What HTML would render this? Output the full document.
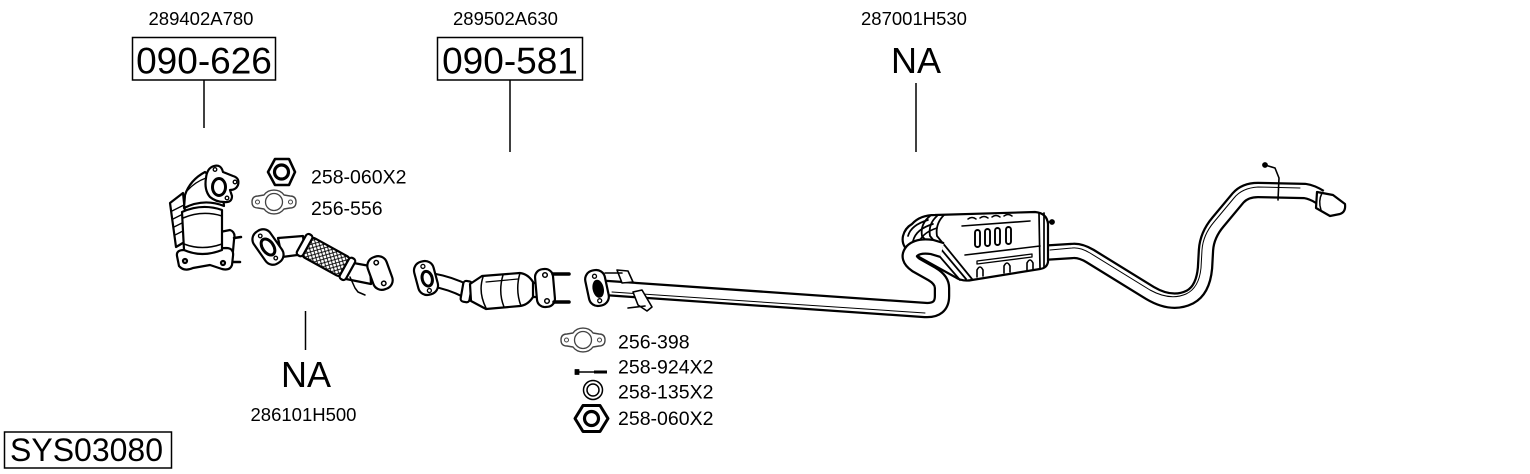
<!DOCTYPE html>
<html><head><meta charset="utf-8">
<style>
html,body{margin:0;padding:0;background:#fff;}
svg{display:block;}
text{font-family:"Liberation Sans",Arial,sans-serif;fill:#000;}
</style></head>
<body>
<svg width="1530" height="474" viewBox="0 0 1530 474" xmlns="http://www.w3.org/2000/svg">
<defs>
<pattern id="mesh" patternUnits="userSpaceOnUse" width="5" height="5">
<rect width="5" height="5" fill="#fff"/>
<path d="M0,0 L5,5 M5,0 L0,5" stroke="#000" stroke-width="0.9"/>
</pattern>
</defs>

<!-- ===== Labels ===== -->
<text x="201" y="25" font-size="18.5" text-anchor="middle">289402A780</text>
<rect x="132.5" y="37.5" width="143" height="42.5" fill="none" stroke="#000" stroke-width="1.5"/>
<text x="204" y="73.5" font-size="37" text-anchor="middle">090-626</text>
<line x1="204" y1="80" x2="204" y2="128" stroke="#000" stroke-width="1.5"/>

<text x="505.5" y="25" font-size="18.5" text-anchor="middle">289502A630</text>
<rect x="437.5" y="37.5" width="145" height="42.5" fill="none" stroke="#000" stroke-width="1.5"/>
<text x="510" y="73.5" font-size="37" text-anchor="middle">090-581</text>
<line x1="510" y1="80" x2="510" y2="152" stroke="#000" stroke-width="1.5"/>

<text x="914" y="25" font-size="18.5" text-anchor="middle">287001H530</text>
<text x="916" y="73" font-size="36" text-anchor="middle">NA</text>
<line x1="916" y1="83" x2="916" y2="152" stroke="#000" stroke-width="1.5"/>

<line x1="305.5" y1="311" x2="305.5" y2="350" stroke="#000" stroke-width="1.5"/>
<text x="306" y="387" font-size="36" text-anchor="middle">NA</text>
<text x="303.5" y="421" font-size="18.5" text-anchor="middle">286101H500</text>

<rect x="4.5" y="432" width="167" height="36" fill="none" stroke="#000" stroke-width="1.5"/>
<text x="10" y="461" font-size="32">SYS03080</text>

<!-- hardware labels -->
<text x="311" y="183.5" font-size="19.5">258-060X2</text>
<text x="311" y="215" font-size="19.5">256-556</text>
<text x="618" y="348.5" font-size="19.5">256-398</text>
<text x="618" y="373.5" font-size="19.5">258-924X2</text>
<text x="618" y="398.5" font-size="19.5">258-135X2</text>
<text x="618" y="425" font-size="19.5">258-060X2</text>

<!-- ===== hardware icons ===== -->
<g stroke="#000" fill="#fff" stroke-linejoin="round">
  <path d="M268,172 L275,159 L289,159 L295,172 L289,185 L275,185 Z" stroke-width="2.6"/>
  <circle cx="281.5" cy="172" r="7" stroke-width="3.2"/>
  <path d="M252,202 Q252,196 258,196 L264,195 A12 11 0 0 1 284,195 L290,196 Q296,196 296,202 Q296,208 290,208 L284,209 A12 11 0 0 1 264,209 L258,208 Q252,208 252,202 Z" stroke="#444" stroke-width="1.4"/>
  <circle cx="274" cy="202" r="8.5" stroke="#444" stroke-width="1.3"/>
  <circle cx="257.5" cy="202" r="2" stroke="#444" stroke-width="1"/>
  <circle cx="290.5" cy="202" r="2" stroke="#444" stroke-width="1"/>
  <path d="M561,340 Q561,334 567,334 L573,333 A12 11 0 0 1 593,333 L599,334 Q605,334 605,340 Q605,346 599,346 L593,347 A12 11 0 0 1 573,347 L567,346 Q561,346 561,340 Z" stroke="#444" stroke-width="1.4"/>
  <circle cx="583" cy="340" r="8.5" stroke="#444" stroke-width="1.3"/>
  <circle cx="566.5" cy="340" r="2" stroke="#444" stroke-width="1"/>
  <circle cx="599.5" cy="340" r="2" stroke="#444" stroke-width="1"/>
  <line x1="578" y1="372" x2="607" y2="372" stroke-width="1.6"/>
  <line x1="594" y1="372" x2="607" y2="372" stroke-width="3"/>
  <rect x="575" y="369.5" width="4" height="5" fill="#000" stroke-width="0.8"/>
  <circle cx="593" cy="390" r="9.5" stroke-width="1.5"/>
  <circle cx="593" cy="390" r="6" stroke-width="1.5"/>
  <path d="M575,418.5 L583,405.5 L600,405.5 L608,418.5 L600,431.5 L583,431.5 Z" stroke-width="3"/>
  <circle cx="591.5" cy="418.5" r="7" stroke-width="3.2"/>
</g>

<!-- ===== Left catalytic converter ===== -->
<g stroke="#000" stroke-width="2.2" fill="#fff" stroke-linejoin="round" stroke-linecap="round">
  <path d="M170,203 L183,193 L188,240 L176,247 Z"/>
  <path d="M172,211 L184,205 M173,219 L185,213 M174,227 L186,221 M175,235 L187,229" stroke-width="1.3"/>
  <path d="M220,232 L230,230 Q236,232 234,240 L232,262 Q230,268 224,266 L218,262 Z"/>
  <line x1="234" y1="238" x2="241" y2="237" stroke-width="2.5"/>
  <line x1="232" y1="262" x2="240" y2="262" stroke-width="2.5"/>
  <path d="M177,256 Q176,250 184,250 L226,248 Q234,248 233,256 L232,265 Q230,271 222,269 L210,265 L193,268 Q184,272 179,266 Z"/>
  <circle cx="185" cy="261" r="2"/>
  <circle cx="223" cy="263" r="2"/>
  <path d="M182,212 Q202,203 222,210 L222,250 Q202,258 184,250 Z"/>
  <path d="M183,218 Q202,210 222,216 M184,244 Q202,251 222,244" fill="none" stroke-width="1.5"/>
  <path d="M185,195 Q190,180 205,172 L222,186 L224,206 Q204,198 184,208 Z"/>
  <path d="M188,190 Q195,182 206,178" fill="none" stroke-width="1.3"/>
  <path d="M206,178 Q207,168 214,166 Q221,164 223,172 L233,176 Q240,178 238,185 Q236,190 230,190 L232,196 Q232,203 224,202 Q216,202 210,197 Q204,190 206,178 Z"/>
  <ellipse cx="219" cy="187" rx="6.5" ry="8.5" stroke-width="3"/>
  <circle cx="215" cy="169.5" r="1.8" stroke-width="1.3"/>
  <circle cx="235" cy="182" r="1.8" stroke-width="1.3"/>
  <circle cx="227" cy="198" r="1.8" stroke-width="1.3"/>
</g>

<!-- ===== Flex pipe ===== -->
<g stroke="#000" stroke-width="2.2" fill="#fff" stroke-linejoin="round" stroke-linecap="round">
  <path d="M278,238 L303,236 L305,254 L282,257 Z"/>
  <path d="M348,262 L370,266 L371,284 L346,279 Z"/>
  <path d="M350,277 L355,288 L358,292 L365,295" fill="none" stroke-width="1.5"/>
  <g transform="rotate(29 326 257)">
    <rect x="302" y="246" width="48" height="22" rx="6" fill="url(#mesh)"/>
    <rect x="298" y="245" width="7" height="24" rx="3"/>
    <rect x="347" y="245" width="7" height="24" rx="3"/>
  </g>
  <g transform="rotate(-35 268 247)">
    <rect x="258" y="228" width="20" height="38" rx="9"/>
    <ellipse cx="268" cy="247" rx="5.5" ry="9" stroke-width="3"/>
    <circle cx="268" cy="233.5" r="1.8" stroke-width="1.3"/>
    <circle cx="268" cy="260.5" r="1.8" stroke-width="1.3"/>
  </g>
  <g transform="rotate(-20 380 273)">
    <rect x="370" y="256" width="20" height="34" rx="9"/>
    <circle cx="380" cy="262" r="2.2" stroke-width="1.5"/>
    <circle cx="380" cy="284" r="2.2" stroke-width="1.5"/>
  </g>
</g>

<!-- ===== Middle catalytic converter ===== -->
<g stroke="#000" stroke-width="2.2" fill="#fff" stroke-linejoin="round" stroke-linecap="round">
  <path d="M433,280 Q450,283 466,291" fill="none" stroke-width="15" stroke-linecap="butt"/>
  <path d="M433,280 Q450,283 466,291" fill="none" stroke="#fff" stroke-width="11" stroke-linecap="butt"/>
  <rect x="531" y="283" width="14" height="14" />
  <rect x="462" y="281" width="9" height="21" rx="3" transform="rotate(10 466 291)"/>
  <path d="M470,284 L482,276 L520,273 Q528,274 533,282 L533,297 Q528,305 520,306 L486,309 L471,301 Z"/>
  <path d="M483,277 Q478,292 486,308 M503,275 Q498,292 504,307 M520,273 Q515,290 521,306" fill="none" stroke-width="1.5"/>
  <path d="M486,282 L518,279" fill="none" stroke-width="1.2"/>
  <g transform="rotate(-15 426 278)">
    <rect x="416" y="261" width="20" height="34" rx="9"/>
    <ellipse cx="427" cy="279" rx="5" ry="7.5" stroke-width="3"/>
    <circle cx="426" cy="266" r="2" stroke-width="1.3"/>
    <circle cx="426" cy="291" r="2" stroke-width="1.3"/>
  </g>
  <rect x="536" y="269" width="18" height="38" rx="8" transform="rotate(-5 545 288)"/>
  <circle cx="545" cy="275" r="2.3" stroke-width="1.5"/>
  <circle cx="547" cy="301" r="2.3" stroke-width="1.5"/>
  <line x1="553" y1="274" x2="569" y2="274" stroke-width="3.5"/>
  <line x1="554" y1="302" x2="569" y2="302" stroke-width="3.5"/>
</g>

<!-- ===== Muffler + tail pipe ===== -->
<g stroke="#000" stroke-width="2.2" fill="#fff" stroke-linejoin="round" stroke-linecap="round">
  <path d="M1040,253 L1072,251 Q1080,250 1090,256 L1150,293 Q1172,306 1190,297 Q1203,290 1205,268 L1206,250 Q1207,235 1218,222 L1238,198 Q1245,190 1258,190 L1305,191 Q1312,192 1320,197" fill="none" stroke-width="16.5" stroke-linecap="butt"/>
  <path d="M1040,253 L1072,251 Q1080,250 1090,256 L1150,293 Q1172,306 1190,297 Q1203,290 1205,268 L1206,250 Q1207,235 1218,222 L1238,198 Q1245,190 1258,190 L1305,191 Q1312,192 1320,197" fill="none" stroke="#fff" stroke-width="12" stroke-linecap="butt"/>
  <path d="M1050,250 L1072,248 Q1080,247 1090,253 L1150,290 Q1170,301 1186,294 Q1199,288 1201,268 L1202,250 Q1203,235 1214,222 L1234,198 Q1242,188 1258,187 L1300,188" fill="none" stroke-width="1"/>
  <path d="M1317,192 L1333,195 L1345,204 Q1346,212 1340,214 L1330,216 L1316,208 Z"/>
  <path d="M1322,193 Q1318,201 1321,210" fill="none" stroke-width="1.5"/>
  <path d="M1265,165 L1275,168 L1279,178 L1278,200" fill="none" stroke-width="1.6"/>
  <circle cx="1265" cy="165" r="1.8" fill="#000"/>
  <line x1="1040" y1="222" x2="1052" y2="222" stroke-width="1.6"/>
  <circle cx="1052" cy="222" r="1.8" fill="#000"/>
  <path d="M912,224 Q920,215 935,215 L1035,212 Q1047,213 1048,224 L1048,262 Q1047,268 1040,269 L972,280 Q962,282 955,277 L910,252 Q901,246 903,236 Q905,228 912,224 Z"/>
  <path d="M908,236 Q911,225 928,220 M913,241 Q916,229 933,224 M918,245 Q921,233 937,228" fill="none" stroke-width="1.7"/>
  <path d="M930,216 Q920,224 922,236 L960,280 M937,216 Q928,224 930,236 L966,279 M944,215 Q935,224 937,236 L972,279" fill="none" stroke-width="1.8"/>
  <path d="M1039,213 L1040,268 M1044,213 L1044,267" fill="none" stroke-width="1.7"/>
  <path d="M962,226 L1030,221 M965,255 L1040,246" fill="none" stroke-width="1.6"/>
  <path d="M977,261 L1032,254 L1032,257 L977,264 Z" stroke-width="1.3"/>
  <rect x="975" y="230" width="5" height="17" rx="2.5" stroke-width="1.9"/>
  <rect x="985" y="229" width="5" height="17" rx="2.5" stroke-width="1.9"/>
  <rect x="995" y="228" width="5" height="17" rx="2.5" stroke-width="1.9"/>
  <rect x="1006" y="227" width="5" height="17" rx="2.5" stroke-width="1.9"/>
  <path d="M968,219 Q972,216 976,219 M980,218 Q984,215 988,218 M992,217 Q996,214 1000,217 M1004,216 Q1008,213 1012,216" fill="none" stroke-width="1.5"/>
  <path d="M977,277 L977,270 Q980,264 983,270 L983,276 M1004,273 L1004,266 Q1007,260 1010,266 L1010,272 M1027,270 L1027,263 Q1030,257 1033,263 L1033,269" fill="none" stroke-width="1.6"/>
</g>

<!-- ===== Long pipe with S-bend ===== -->
<g stroke="#000" stroke-width="2.2" fill="#fff" stroke-linejoin="round" stroke-linecap="round">
  <path d="M606,288 L925,310 Q942,311 942,296 L942,288 Q942,280 932,274 L916,265 Q906,258 912,251 Q918,245 932,247 L942,250" fill="none" stroke-width="16.5" stroke-linecap="butt"/>
  <path d="M606,288 L925,310 Q942,311 942,296 L942,288 Q942,280 932,274 L916,265 Q906,258 912,251 Q918,245 932,247 L942,250" fill="none" stroke="#fff" stroke-width="12" stroke-linecap="butt"/>
  <path d="M612,292 L925,313" fill="none" stroke-width="1"/>
  <path d="M617,270 L628,271 L633,282 L622,283 Z" stroke-width="1.6"/>
  <line x1="605" y1="273" x2="622" y2="273" stroke-width="1.6"/>
  <path d="M633,292 L642,290 L652,307 L647,311 L638,305 Z" stroke-width="1.6"/>
  <line x1="628" y1="308" x2="645" y2="306" stroke-width="1.6"/>
  <g transform="rotate(-12 597 288)">
    <rect x="587" y="270" width="20" height="36" rx="9"/>
    <ellipse cx="598" cy="289" rx="4.5" ry="8" fill="#000"/>
    <circle cx="597" cy="276" r="2" stroke-width="1.3"/>
    <circle cx="597" cy="301" r="2" stroke-width="1.3"/>
  </g>
</g>
</svg>
</body></html>
